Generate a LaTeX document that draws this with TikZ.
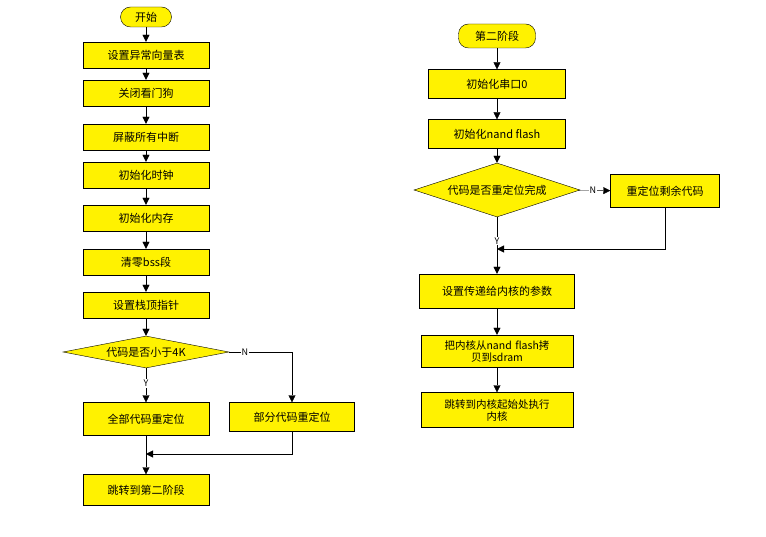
\documentclass[tikz,border=0pt]{standalone}
\usepackage{fontspec}
\setmainfont{Noto Sans CJK SC}
\usetikzlibrary{shapes.geometric,arrows.meta}
\begin{document}
\begin{tikzpicture}[x=1pt,y=-1pt,
  every node/.style={font=\fontsize{11}{13}\selectfont},
  box/.style={draw,fill=yellow,minimum height=26pt,inner sep=1pt,align=center},
  term/.style={draw,fill=yellow,rounded corners=10pt,minimum height=20pt},
  dec/.style={draw,fill=yellow,diamond,aspect=5.2,inner sep=0pt},
  lab/.style={fill=white,inner sep=1pt,font=\fontsize{9}{10}\selectfont},
  ar/.style={-{Triangle[length=7pt,width=7pt]}}]
\useasboundingbox (0,0) rectangle (766,537);
\node[term,minimum width=51pt] (s) at (146,17) {开始};
\node[box,minimum width=126pt] (b1) at (146,55) {设置异常向量表};
\node[box,minimum width=126pt] (b2) at (146,93) {关闭看门狗};
\node[box,minimum width=126pt] (b3) at (146,137) {屏蔽所有中断};
\node[box,minimum width=126pt] (b4) at (146,175) {初始化时钟};
\node[box,minimum width=126pt] (b5) at (146,218) {初始化内存};
\node[box,minimum width=126pt] (b6) at (146,262) {清零bss段};
\node[box,minimum width=126pt] (b7) at (146,305) {设置栈顶指针};
\node[dec,minimum width=166pt,minimum height=32pt] (d1) at (146,352) {代码是否小于4K};
\node[box,minimum width=126pt,minimum height=33pt] (y1) at (146,419) {全部代码重定位};
\node[box,minimum width=125pt,minimum height=29pt] (n1) at (292,417) {部分代码重定位};
\node[box,minimum width=126pt,minimum height=31pt] (j1) at (146,490) {跳转到第二阶段};
\coordinate (m1) at (146,454);
\draw[ar] (s) -- (b1);
\draw[ar] (b1) -- (b2);
\draw[ar] (b2) -- (b3);
\draw[ar] (b3) -- (b4);
\draw[ar] (b4) -- (b5);
\draw[ar] (b5) -- (b6);
\draw[ar] (b6) -- (b7);
\draw[ar] (b7) -- (d1);
\draw[ar] (d1) -- node[lab,pos=0.45]{Y} (y1);
\draw[ar] (d1.east) -- node[lab,pos=0.25]{N} (292,352) -- (n1.north);
\draw[ar] (y1) -- (j1);
\draw[ar] (n1.south) |- (m1);
\node[term,minimum width=77pt,minimum height=24pt] (s2) at (497,36) {第二阶段};
\node[box,minimum width=137pt,minimum height=29pt] (c1) at (497,84) {初始化串口0};
\node[box,minimum width=137pt,minimum height=29pt] (c2) at (497,134) {初始化nand flash};
\node[dec,minimum width=166pt,minimum height=54pt,aspect=3] (d2) at (497,190) {代码是否重定位完成};
\node[box,minimum width=109pt,minimum height=33pt] (r2) at (665,191) {重定位剩余代码};
\node[box,minimum width=155pt,minimum height=34pt] (c3) at (497,291) {设置传递给内核的参数};
\node[box,minimum width=152pt,minimum height=32pt,text width=146pt,font=\fontsize{10.5}{12}\selectfont] (c4) at (497,351) {把内核从nand flash拷\\贝到sdram};
\node[box,minimum width=152pt,minimum height=35pt,text width=146pt,font=\fontsize{10.5}{12}\selectfont] (c5) at (497,410) {跳转到内核起始处执行\\内核};
\coordinate (m2) at (497,249);
\draw[ar] (s2) -- (c1);
\draw[ar] (c1) -- (c2);
\draw[ar] (c2) -- (d2);
\draw[ar] (d2) -- node[lab,pos=0.45]{N} (r2);
\draw (d2.south) -- node[lab,pos=0.75]{Y} (m2);
\draw[ar] (m2) -- (c3);
\draw[ar] (r2.south) |- (m2);
\draw[ar] (c3) -- (c4);
\draw[ar] (c4) -- (c5);
\end{tikzpicture}
\end{document}
